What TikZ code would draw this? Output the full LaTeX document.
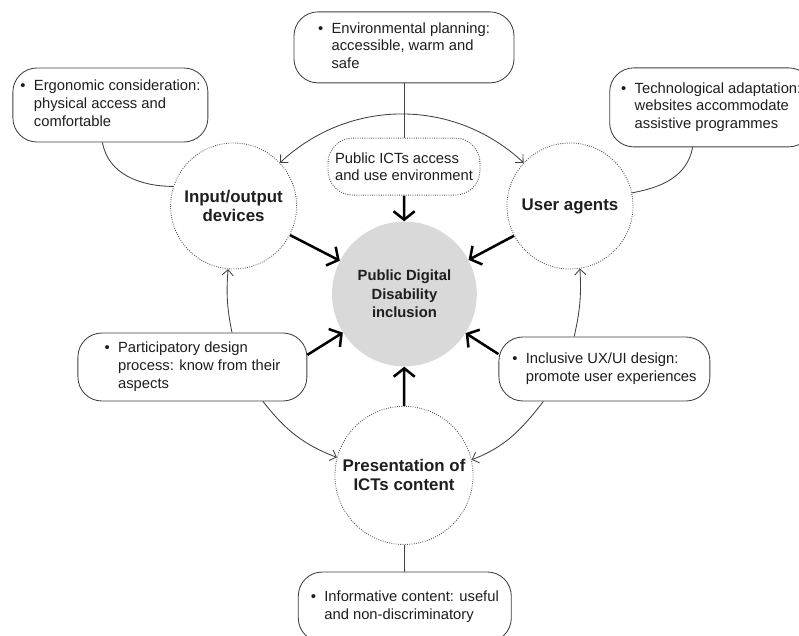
\documentclass[tikz,border=0pt]{standalone}
\usepackage{fontspec}
\setmainfont{Liberation Sans}
\usepackage{tikz}
\usetikzlibrary{arrows.meta,positioning,calc}
\definecolor{edgegray}{HTML}{404040}
\definecolor{ringgray}{HTML}{4A4A4A}
\definecolor{hubfill}{HTML}{D9D9D9}
\definecolor{inkdark}{HTML}{1E1E1E}
\newcommand{\bitem}[1]{\textbullet\hspace{6pt}\begin{tabular}[t]{@{}l@{}}#1\end{tabular}}

\begin{document}
\begin{tikzpicture}[
    every node/.style={text=inkdark},
    >={Straight Barb[length=4pt, width=8pt]},
    note/.style={draw=edgegray, line width=0.6pt, rounded corners=0.6cm, fill=white, align=left, inner sep=0.15cm, font=\fontsize{10.5}{12.5}\selectfont},
    ring/.style={circle, draw=ringgray, densely dotted, line width=0.6pt, minimum size=3.15cm, align=center, font=\fontsize{12}{13.5}\selectfont\bfseries},
    core/.style={circle, fill=hubfill, minimum size=3.62cm, align=center, font=\fontsize{10.5}{13}\selectfont\bfseries},
    flow/.style={-{Straight Barb[length=6pt, width=15pt]}, line width=1.8pt, black},
    faint/.style={->, edgegray, line width=0.6pt},
    link/.style={edgegray, line width=0.6pt},
]
\useasboundingbox (0,0) rectangle (19.975,15.875);

% === CENTRE ===
\node[core] (hub) at (10.11, 8.525) {Public Digital\\Disability\\inclusion};

% === RING OF ASPECTS ===
\node[ring] (io) at (5.84, 10.725) {Input/output\\devices};
\node[ring] (agents) at (14.25, 10.725) {User agents};
\node[ring] (pres) at (10.1, 3.99) {Presentation of\\ICTs content};
\node[note, densely dotted, rounded corners=0.62cm, minimum width=3.8cm, minimum height=1.425cm] (icts) at (10.1, 11.71) {Public ICTs access\\and use environment};

% === NOTES ===
\node[note, minimum width=5.5cm, minimum height=1.775cm] (env) at (10.1, 14.69) {\bitem{Environmental planning:\\accessible, warm and\\safe}};
\node[note, minimum width=4.875cm, minimum height=1.85cm] (ergo) at (2.76, 13.25) {\bitem{Ergonomic consideration:\\physical access and\\comfortable}};
\node[note, minimum width=5.075cm, minimum height=1.975cm] (tech) at (17.78, 13.19) {\bitem{Technological adaptation:\\websites accommodate\\assistive programmes}};
\node[note, minimum width=5.725cm, minimum height=1.7cm] (partic) at (4.81, 6.7) {\bitem{Participatory design\\process: know from their\\aspects}};
\node[note, minimum width=5.275cm, minimum height=1.6cm] (incl) at (15.11, 6.65) {\bitem{Inclusive UX/UI design:\\promote user experiences}};
\node[note, minimum width=5.325cm, minimum height=1.75cm] (info) at (10.12, 0.7) {\bitem{Informative content: useful\\and non-discriminatory}};

% Everything pushes into the centre
\draw[flow] (io) -- (hub);
\draw[flow] (agents) -- (hub);
\draw[flow] (icts) -- (hub);
\draw[flow] (pres) -- (hub);
\draw[flow] (partic.6) -- (hub);
\draw[flow] (incl.172) -- (hub);

% Notes attached to the ring
\draw[link] (env) -- (icts);
\draw[link] (pres) -- (info);
\draw[link] (ergo.258) to[out=-80, in=180] (io.162);
\draw[link] (tech.245) to[out=-100, in=10] (agents.12);

% Outer arcs
\draw[faint, <->] (io) to[bend left=43] (agents);
\draw[faint] (partic.41) to[bend left=8] (io.265);
\draw[faint] (partic.334) to[out=-52, in=159] (pres.165);
\draw[faint] (incl.133) to[bend right=8] (agents.279);
\draw[faint] (incl.208) to[out=-128, in=21] (pres.13);

\end{tikzpicture}
\end{document}
